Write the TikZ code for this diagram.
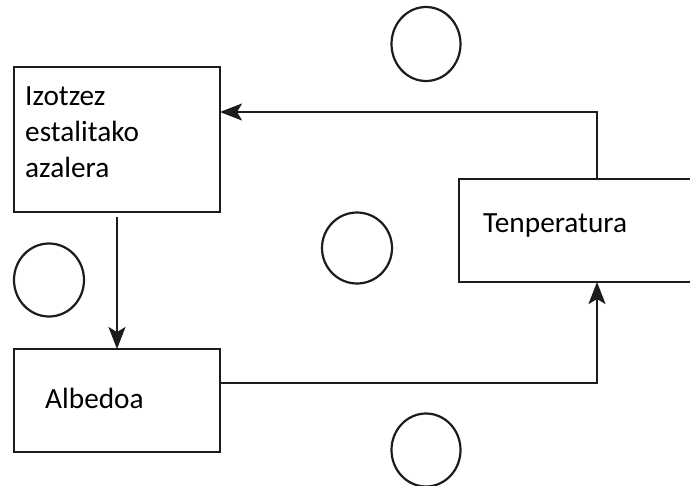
\documentclass[tikz,border=0pt]{standalone}
\usepackage{fontspec}
\setmainfont{Carlito}
\usetikzlibrary{arrows.meta,shapes.geometric}
\definecolor{ink}{HTML}{1C1C1C}
\begin{document}
\begin{tikzpicture}[x=1pt,y=-1pt,
  box/.style={draw=ink,line width=2.2pt,rectangle,inner sep=0pt,outer sep=0pt},
  ring/.style={draw=ink,line width=2.2pt,ellipse,inner sep=0pt,outer sep=0pt},
  lbl/.style={anchor=base west,inner sep=0pt,text=black,align=left,
              font=\fontsize{29.3}{36}\selectfont},
  arr/.style={draw=ink,line width=2.2pt,-{Stealth[length=22pt,width=17pt,inset=5pt]}}]
\clip (0,0) rectangle (690,485);
\fill[white] (0,0) rectangle (690,485);

% boxes
\node[box,minimum width=206pt,minimum height=145pt] (ice) at (117,139.5) {};
\node[box,minimum width=206pt,minimum height=103pt] (alb) at (117,400.5) {};
\node[box,minimum width=241pt,minimum height=103pt] (temp) at (579.5,230.5) {};

% labels (base anchor sits on the last line)
\node[lbl] (iceT) at (25,177) {Izotzez\\estalitako\\azalera};
\node[lbl] (albT) at (45,408) {Albedoa};
\node[lbl] (tempT) at (483,232) {Tenperatura};

% empty circles for the signs
\node[ring,minimum width=69pt,minimum height=74pt] (s1) at (426,44) {};
\node[ring,minimum width=70pt,minimum height=71pt] (s2) at (357,248) {};
\node[ring,minimum width=70pt,minimum height=73pt] (s3) at (49,280) {};
\node[ring,minimum width=69pt,minimum height=73pt] (s4) at (426,450) {};

% feedback loop
\draw[arr,shorten <=5pt] (ice.south) -- (alb.north);
\draw[arr] (alb.east |- 0,383) -| (temp.south -| 597,0);
\draw[arr] (temp.north -| 597,0) |- (ice.east |- 0,112);
\end{tikzpicture}
\end{document}
